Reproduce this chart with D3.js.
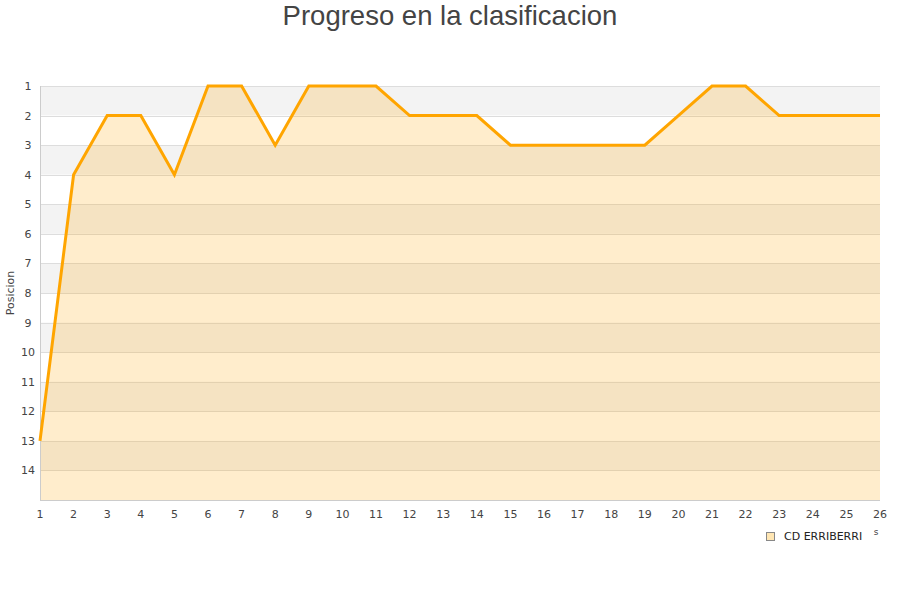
<!DOCTYPE html>
<html><head><meta charset="utf-8">
<script src="https://cdn.jsdelivr.net/npm/d3@7"></script>
<style>body{margin:0;background:#fff;}svg{display:block;font-family:"DejaVu Sans",sans-serif;}</style>
</head><body>
<svg id="c" width="900" height="600"></svg>
<script>
const jornadas = [1,2,3,4,5,6,7,8,9,10,11,12,13,14,15,16,17,18,19,20,21,22,23,24,25,26];
const posiciones = [13,4,2,2,4,1,1,3,1,1,1,2,2,2,3,3,3,3,3,2,1,1,2,2,2,2];
const yTicks = [1,2,3,4,5,6,7,8,9,10,11,12,13,14];
const teamName = "CD ERRIBERRI";
const title = "Progreso en la clasificacion";
const yLabel = "Posicion";

const svg = d3.select("#c");
const L = 40, R = 880, T = 86, B = 500;
const x = d3.scaleLinear().domain([1, 26]).range([L, R]);
const y = d3.scaleLinear().domain([1, 15]).range([T, B]);

// bands
const bands = d3.range(1, 15);
svg.append("g").selectAll("rect").data(bands).join("rect")
  .attr("x", L).attr("width", R - L)
  .attr("y", d => y(d)).attr("height", d => y(d + 1) - y(d))
  .attr("fill", d => d % 2 === 1 ? "#f3f3f3" : "#ffffff");

// gridlines
svg.append("g").selectAll("line").data(yTicks).join("line")
  .attr("x1", L).attr("x2", R)
  .attr("y1", d => Math.round(y(d)) + 0.5).attr("y2", d => Math.round(y(d)) + 0.5)
  .attr("stroke", "#dddddd").attr("stroke-width", 1);

const pts = jornadas.map((j, i) => [j, posiciones[i]]);
// area
svg.append("path").datum(pts)
  .attr("d", d3.area().x(d => x(d[0])).y0(y(15)).y1(d => y(d[1])))
  .attr("fill", "rgba(255,165,0,0.2)");

// axes lines
svg.append("line").attr("x1", L + 0.5).attr("x2", L + 0.5).attr("y1", T).attr("y2", B)
  .attr("stroke", "#cccccc");
svg.append("line").attr("x1", L).attr("x2", R).attr("y1", B + 0.5).attr("y2", B + 0.5)
  .attr("stroke", "#cccccc");

// line
svg.append("path").datum(pts)
  .attr("d", d3.line().x(d => x(d[0])).y(d => y(d[1])))
  .attr("fill", "none").attr("stroke", "#ffa500").attr("stroke-width", 3)
  .attr("stroke-linejoin", "miter");

// y tick labels
svg.append("g").selectAll("text").data(yTicks).join("text")
  .attr("x", 28).attr("y", d => y(d) + 4)
  .attr("text-anchor", "middle").attr("font-size", 11).attr("fill", "#444")
  .text(d => d);

// x tick labels
svg.append("g").selectAll("text").data(jornadas).join("text")
  .attr("x", d => x(d)).attr("y", 518)
  .attr("text-anchor", "middle").attr("font-size", 11).attr("fill", "#444")
  .text(d => d);

// y label
svg.append("text").attr("transform", `translate(14,${y(8)}) rotate(-90)`)
  .attr("text-anchor", "middle").attr("font-size", 11).attr("fill", "#444")
  .text(yLabel);

// title
svg.append("text").attr("x", 450).attr("y", 25)
  .attr("text-anchor", "middle").attr("font-size", 27.5).attr("fill", "#444")
  .attr("font-family", "'Liberation Sans', Arial, sans-serif")
  .text(title);

// legend
svg.append("rect").attr("x", 766.5).attr("y", 532.5).attr("width", 8).attr("height", 8)
  .attr("fill", "#ffe6b3").attr("stroke", "#888");
svg.append("text").attr("x", 784).attr("y", 540)
  .attr("font-size", 11).attr("fill", "#222").text(teamName);
svg.append("text").attr("x", 876).attr("y", 535).attr("text-anchor", "middle")
  .attr("font-size", 9).attr("fill", "#444").text("s");
</script>
</body></html>
